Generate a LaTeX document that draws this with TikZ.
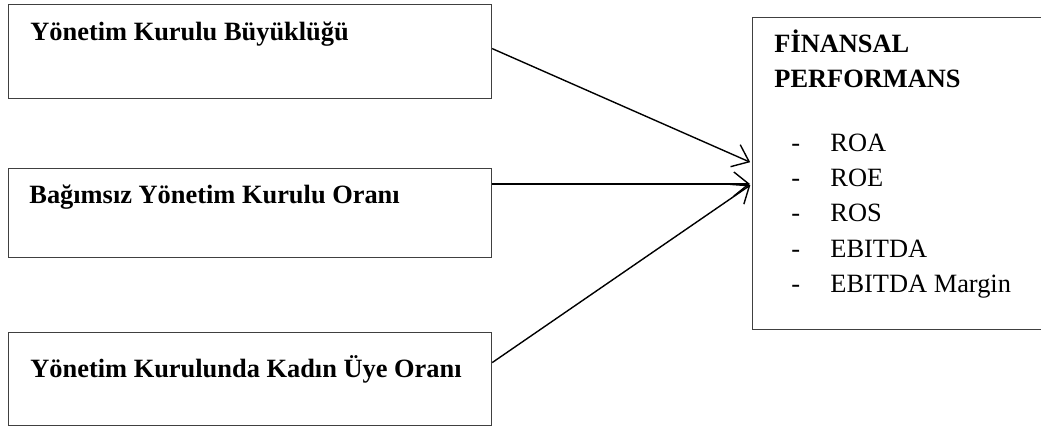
\documentclass[tikz,border=0pt]{standalone}
\usepackage{fontspec}
\setmainfont{Liberation Serif}
\usetikzlibrary{arrows.meta}
\begin{document}
\begin{tikzpicture}[x=0.5pt,y=-0.5pt,
  box/.style={draw=black!75, line width=0.6pt, rectangle, inner sep=0pt, anchor=north west},
  lbl/.style={font=\fontsize{13.2pt}{15pt}\selectfont\bfseries, anchor=base west, inner sep=0pt},
  itm/.style={font=\fontsize{13.2pt}{15pt}\selectfont, anchor=base west, inner sep=0pt},
  conn/.style={draw=black, line width=0.7pt, -{Straight Barb[length=7.5pt,width=12pt,line width=0.7pt]}, shorten >=1pt}]
\useasboundingbox (0,0) rectangle (1041,428);
\clip (0,0) rectangle (1041,428);
% left boxes
\node[box, minimum width=241.5pt, minimum height=47pt] (b1) at (8,4) {};
\node[box, minimum width=241.5pt, minimum height=44.5pt] (b2) at (8,168) {};
\node[box, minimum width=241.5pt, minimum height=46.5pt] (b3) at (8,332) {};
\node[lbl] (t1) at (30,40) {Yönetim Kurulu Büyüklüğü};
\node[lbl] (t2) at (29,203) {Bağımsız Yönetim Kurulu Oranı};
\node[lbl] (t3) at (30,377) {Yönetim Kurulunda Kadın Üye Oranı};
% right box
\node[box, minimum width=147pt, minimum height=156pt] (fin) at (752,17) {};
\node[lbl] (h1) at (774,53) {FİNANSAL};
\node[lbl] (h2) at (774,88) {PERFORMANS};
\foreach \y/\t [count=\i] in {151/ROA,186/ROE,221.5/ROS,257/EBITDA,292.5/EBITDA Margin}{
  \node[itm] (d\i) at (791,\y) {-};
  \node[itm] (i\i) at (830,\y) {\t};
}
% connectors
\coordinate (e1) at (750,163);
\coordinate (e2) at (750,184);
\draw[conn] ([yshift=1.5pt]b1.east) -- (fin.west |- e1);
\draw[conn] (b2.east |- e2) -- (fin.west |- e2);
\draw[conn] ([yshift=8.25pt]b3.east) -- (fin.west |- e2);
\end{tikzpicture}
\end{document}
